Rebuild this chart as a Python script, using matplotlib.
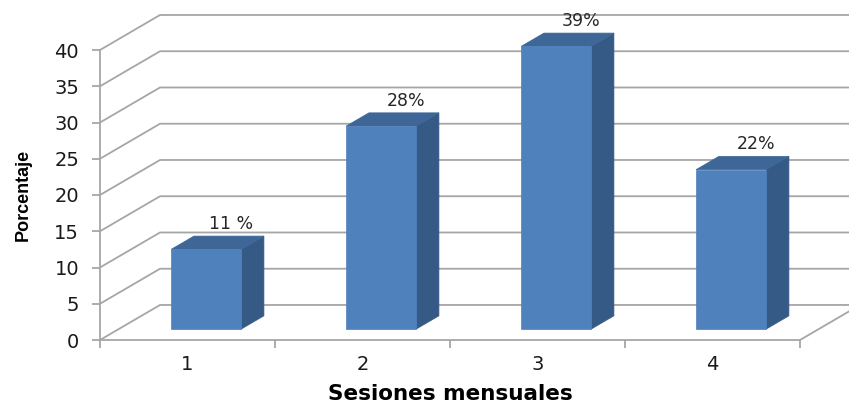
import numpy as np
from matplotlib import pyplot as plt
from matplotlib.patches import Polygon

plt.rcParams["font.family"] = ["DejaVu Sans"]

sesiones = [1, 2, 3, 4]
porcentaje = [11, 28, 39, 22]
etiquetas = ["11 %", "28%", "39%", "22%"]
y_ticks = [0, 5, 10, 15, 20, 25, 30, 35, 40]

# fake 3d: depth of the plot box in data units
depth_x = 0.343
depth_y = 4.83
bar_w = 0.4
bar_front = 0.31
bar_depth = 0.38

grid_col = "#a6a6a6"
front_col = "#4f81bd"
side_col = "#365a86"
top_col = "#3e6797"

fig = plt.figure(figsize=(8.49, 4.04), dpi=100)
ax = fig.add_axes([100 / 849, 64 / 404, 700 / 849, 290 / 404])
ax.set_xlim(0.5, 4.5)
ax.set_ylim(0, 40)

# back wall gridlines + left side wall
for v in y_ticks:
    ax.plot([0.5, 0.5 + depth_x, 4.5 + depth_x], [v, v + depth_y, v + depth_y],
            color=grid_col, lw=1.3, clip_on=False, zorder=1)
# floor right edge
ax.plot([4.5, 4.5 + depth_x], [0, depth_y], color=grid_col, lw=1.3, clip_on=False, zorder=1)

# bars
ox = bar_front * depth_x
oy = bar_front * depth_y
bx = bar_depth * depth_x
by = bar_depth * depth_y
for s, p, lab in zip(sesiones, porcentaje, etiquetas):
    x0 = s - bar_w / 2 + ox
    x1 = s + bar_w / 2 + ox
    y0 = oy
    y1 = p + oy
    ax.add_patch(Polygon([(x1, y0), (x1 + bx, y0 + by), (x1 + bx, y1 + by), (x1, y1)],
                         closed=True, fc=side_col, ec=side_col, lw=0.5, zorder=3, clip_on=False))
    ax.add_patch(Polygon([(x0, y1), (x1, y1), (x1 + bx, y1 + by), (x0 + bx, y1 + by)],
                         closed=True, fc=top_col, ec=top_col, lw=0.5, zorder=3, clip_on=False))
    ax.add_patch(Polygon([(x0, y0), (x1, y0), (x1, y1), (x0, y1)],
                         closed=True, fc=front_col, ec=front_col, lw=0.5, zorder=4, clip_on=False))
    ax.text(s + 0.25, p + 5.0, lab, ha="center", va="center", fontsize=12.5,
            color="#262626")

for side in ["top", "right"]:
    ax.spines[side].set_visible(False)
for side in ["left", "bottom"]:
    ax.spines[side].set_color(grid_col)
    ax.spines[side].set_linewidth(1.3)

ax.set_yticks(y_ticks)
ax.set_yticklabels([str(v) for v in y_ticks], fontsize=14, color="#1a1a1a")
ax.tick_params(axis="y", length=6, width=1.3, color=grid_col, pad=9)

ax.set_xticks([0.5, 1.5, 2.5, 3.5, 4.5])
ax.set_xticklabels([])
ax.set_xticks(sesiones, minor=True)
ax.set_xticklabels([str(s) for s in sesiones], minor=True, fontsize=14, color="#1a1a1a")
ax.tick_params(axis="x", which="major", length=6, width=1.3, color=grid_col)
ax.tick_params(axis="x", which="minor", length=0, pad=11)

ax.set_xlabel("Sesiones mensuales", fontsize=15.5, fontweight="bold", labelpad=7)
ax.set_ylabel("Porcentaje", fontsize=13, family="Liberation Sans", fontweight="bold",
              labelpad=16)

fig.savefig("out.png", dpi=100)
